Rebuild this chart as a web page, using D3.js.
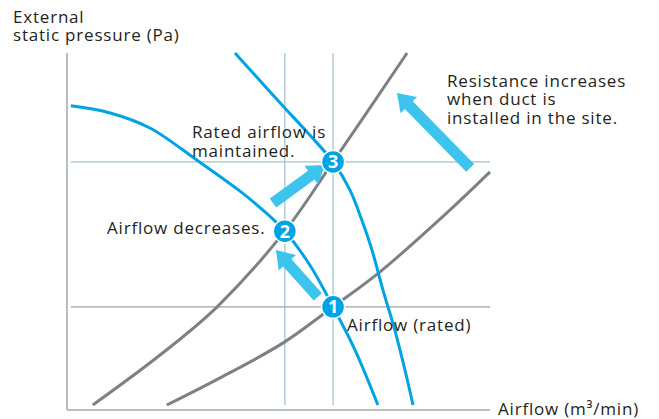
<!DOCTYPE html>
<html><head><meta charset="utf-8">
<script src="https://cdn.jsdelivr.net/npm/d3@7"></script>
<style>
html,body{margin:0;padding:0;background:#fff;}
svg{display:block;font-family:"Open Sans","Noto Sans",sans-serif;}
</style></head>
<body>
<svg id="chart" width="659" height="419"></svg>
<script>
// Data (normalized units: airflow 0-100, pressure 0-100)
const fanCurveLow = [[0.9,85.2],[10.2,83.2],[19.6,79.0],[30.7,70.0],[40.9,61.3],[46.3,56.0],[51.5,50.1],[57.4,40.6],[62.9,28.9],[68.1,16.8],[73.5,1.4]];
const fanCurveHigh = [[39.7,100],[50.4,86.0],[57.4,77.0],[62.9,69.5],[66.9,61.6],[69.7,53.2],[72.1,44.8],[74.7,33.6],[77.5,22.4],[79.9,11.2],[81.8,1.4]];
const systemLow = [[23.6,1.4],[36.2,9.0],[51.1,18.8],[62.9,28.9],[74.0,38.7],[90.5,56.0],[100,66.7]];
const systemHigh = [[6.1,1.4],[22.0,15.4],[35.5,28.9],[51.5,50.1],[62.9,69.5],[80.4,100]];
const opPoints = [{id:"1",x:62.9,y:28.9},{id:"2",x:51.5,y:50.1},{id:"3",x:62.9,y:69.5}];
const arrows = [
  {from:[95.3,67.8],to:[78.0,88.8]},
  {from:[59.3,31.7],to:[49.4,44.8]},
  {from:[48.7,58.0],to:[61.0,68.6]}
];
const gridV = [{x:51.5,c:"#a7c5d1"},{x:62.9,c:"#a7c5d1"}];
const gridH = [{y:69.5,c:"#9fc0cd"},{y:28.9,c:"#9ea3a6"}];

const svg = d3.select("#chart");
const x = d3.scaleLinear().domain([0,100]).range([67,490]);
const y = d3.scaleLinear().domain([0,100]).range([410,53]);

// grid lines
svg.selectAll(".gv").data(gridV).join("line")
  .attr("x1",d=>x(d.x)).attr("x2",d=>x(d.x))
  .attr("y1",y(100)).attr("y2",y(1.4))
  .attr("stroke",d=>d.c).attr("stroke-width",1.3);
svg.selectAll(".gh").data(gridH).join("line")
  .attr("x1",x(0.9)).attr("x2",x(100))
  .attr("y1",d=>y(d.y)).attr("y2",d=>y(d.y))
  .attr("stroke",d=>d.c).attr("stroke-width",1.3);

// axes
svg.append("line").attr("x1",x(0)).attr("x2",x(0)).attr("y1",y(100)).attr("y2",y(0))
  .attr("stroke","#a3a8ab").attr("stroke-width",1.5);
svg.append("line").attr("x1",x(0)).attr("x2",x(100)).attr("y1",y(0)).attr("y2",y(0))
  .attr("stroke","#a3a8ab").attr("stroke-width",1.5);

const line = d3.line().x(d=>x(d[0])).y(d=>y(d[1])).curve(d3.curveCatmullRom.alpha(0.5));

svg.append("path").attr("d",line(systemLow)).attr("fill","none").attr("stroke","#7b8185").attr("stroke-width",3);
svg.append("path").attr("d",line(systemHigh)).attr("fill","none").attr("stroke","#7b8185").attr("stroke-width",3);
svg.append("path").attr("d",line(fanCurveLow)).attr("fill","none").attr("stroke","#00a3e3").attr("stroke-width",3);
svg.append("path").attr("d",line(fanCurveHigh)).attr("fill","none").attr("stroke","#00a3e3").attr("stroke-width",3);

// arrows
function arrowPath(a){
  const x0=x(a.from[0]), y0=y(a.from[1]), x1=x(a.to[0]), y1=y(a.to[1]);
  const dx=x1-x0, dy=y1-y0, L=Math.hypot(dx,dy);
  const ux=dx/L, uy=dy/L, nx=-uy, ny=ux;
  const sw=5.5, hw=11.5, hl=17;
  const bx=x1-ux*hl, by=y1-uy*hl;
  const pts=[[x0+nx*sw,y0+ny*sw],[bx+nx*sw,by+ny*sw],[bx+nx*hw,by+ny*hw],[x1,y1],
    [bx-nx*hw,by-ny*hw],[bx-nx*sw,by-ny*sw],[x0-nx*sw,y0-ny*sw]];
  return "M"+pts.map(p=>p.join(",")).join("L")+"Z";
}
svg.selectAll(".arrow").data(arrows).join("path").attr("d",arrowPath).attr("fill","#3cc4ef");

// markers
const mk = svg.selectAll(".mk").data(opPoints).join("g")
  .attr("transform",d=>`translate(${x(d.x)},${y(d.y)})`);
mk.append("circle").attr("r",11.5).attr("fill","#00a3e3").attr("stroke","#fff").attr("stroke-width",1.5);
mk.append("text").text(d=>d.id).attr("text-anchor","middle").attr("dy","0.36em")
  .attr("fill","#fff").attr("font-weight","bold").attr("font-size",18);

// texts
const tc="#231f20";
function txt(s,px,py){ return svg.append("text").attr("x",px).attr("y",py).attr("fill",tc)
  .attr("font-size",17).attr("letter-spacing","0.8px").text(s); }
txt("External",13,23);
txt("static pressure (Pa)",13,41);
txt("Resistance increases",447,87);
txt("when duct is",447,105);
txt("installed in the site.",447,124);
txt("Rated airflow is",192,138);
txt("maintained.",192,157);
txt("Airflow decreases.",107,234);
txt("Airflow (rated)",347,331);
txt("Airflow (m³/min)",498,415);
</script>
</body></html>
